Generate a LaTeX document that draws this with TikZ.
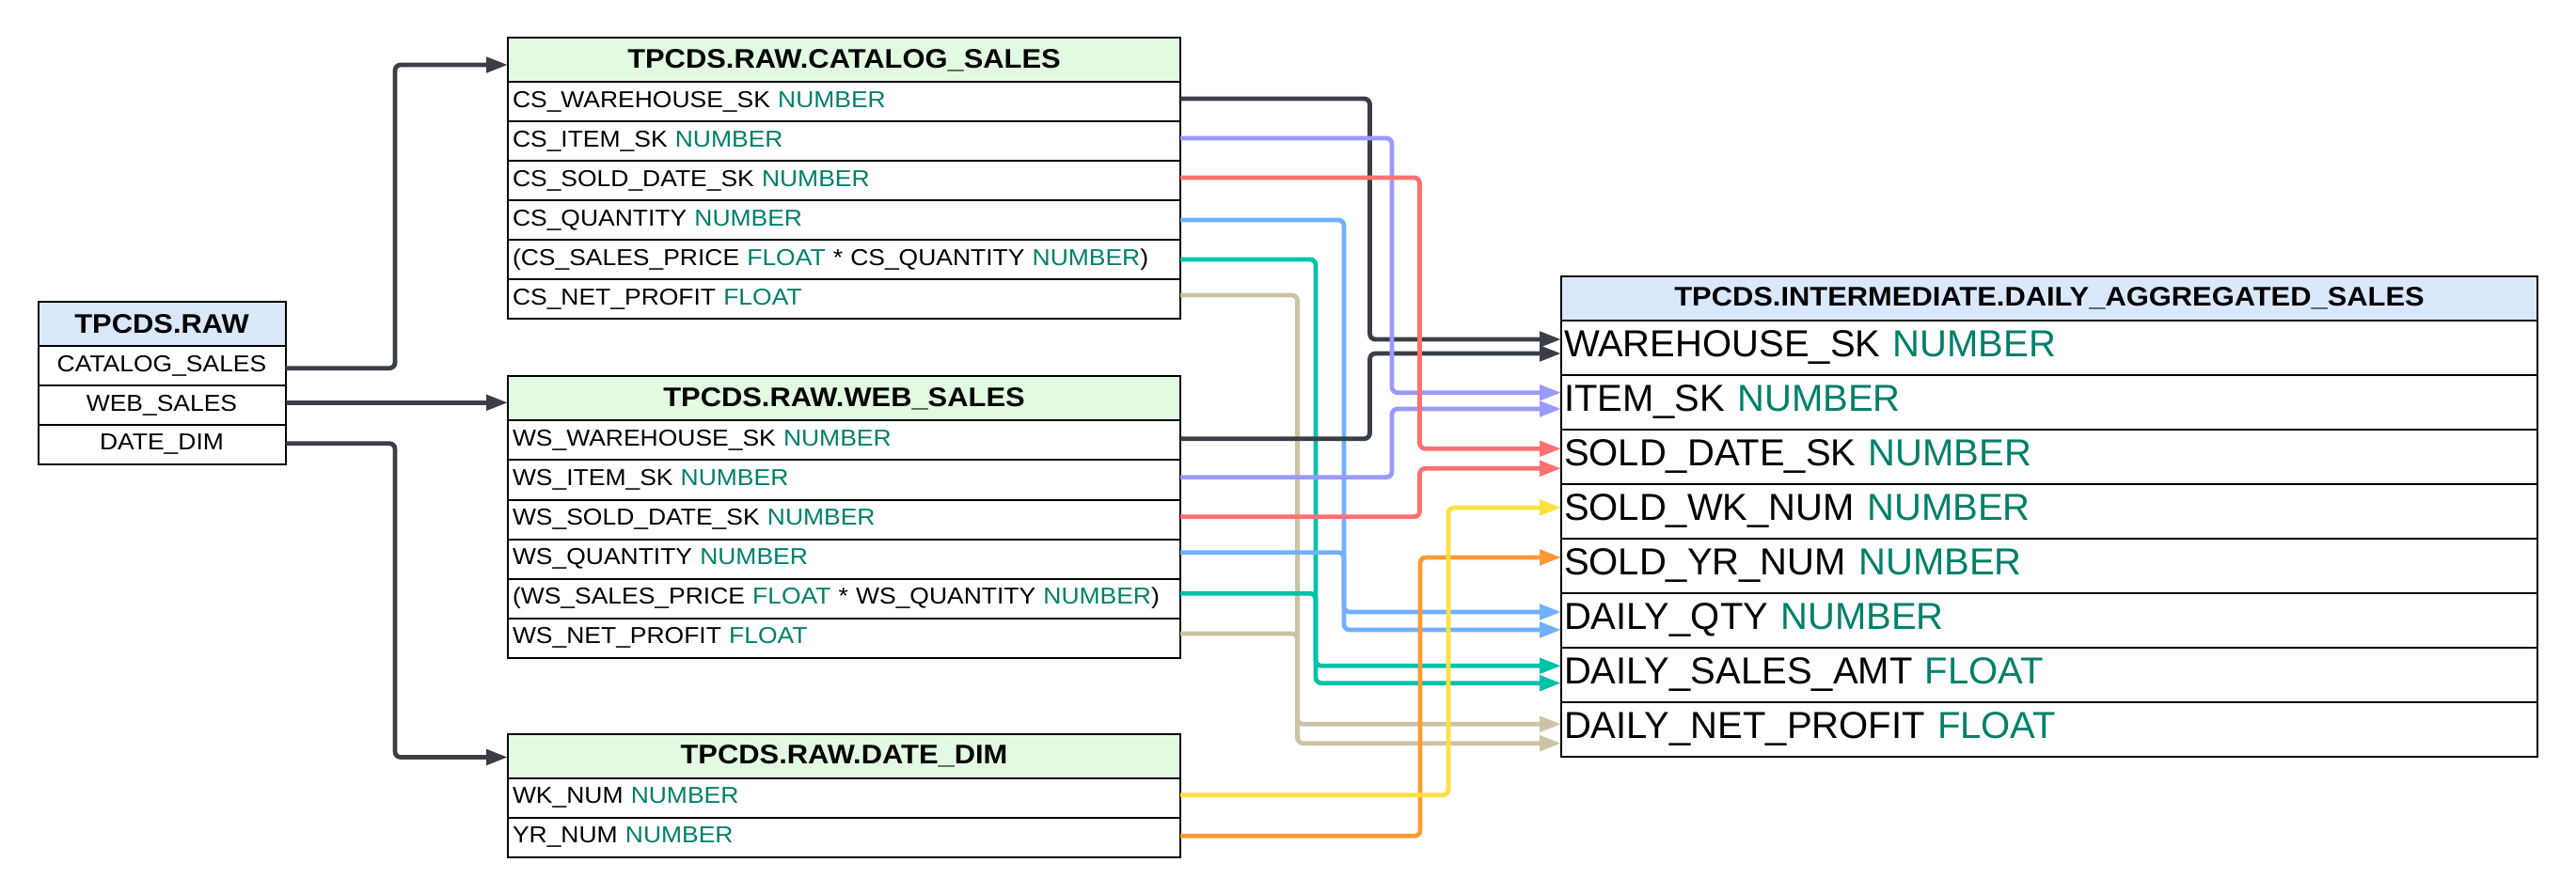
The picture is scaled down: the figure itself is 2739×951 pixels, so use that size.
\documentclass[tikz,border=0pt]{standalone}
\usepackage{fontspec}
\setmainfont{Liberation Sans}
\newfontfamily\sfs{Liberation Sans}[FakeStretch=1.08]
\usetikzlibrary{arrows.meta}
\definecolor{typec}{HTML}{00806A}
\definecolor{bluef}{HTML}{DAE8FC}
\definecolor{greenf}{HTML}{E2FAE2}
\definecolor{cdark}{HTML}{3A3F47}
\definecolor{cpurple}{HTML}{9999FF}
\definecolor{cred}{HTML}{FF7070}
\definecolor{cblue}{HTML}{70B0FF}
\definecolor{cteal}{HTML}{00C2A8}
\definecolor{ctan}{HTML}{CBC3A3}
\definecolor{cyellow}{HTML}{FFE03F}
\definecolor{corange}{HTML}{FF9933}
\newcommand\dtype[1]{\textcolor{typec}{#1}}
\begin{document}
\begin{tikzpicture}[x=0.5pt,y=-0.5pt,
  cell/.style={draw=black, line width=1pt, anchor=north west, inner ysep=0pt, outer sep=0pt},
  srow/.style={cell, font=\sfs\fontsize{12.25pt}{14pt}\selectfont, text width=352.5pt, inner xsep=2.5pt, minimum height=21pt, align=left},
  shead/.style={cell, fill=greenf, font=\sfs\bfseries\fontsize{14.3pt}{16pt}\selectfont, text width=352.5pt, inner xsep=2.5pt, minimum height=23.5pt, align=center},
  rawrow/.style={cell, font=\sfs\fontsize{12.25pt}{14pt}\selectfont, text width=127.5pt, inner xsep=2pt, minimum height=21pt, align=center},
  rawhead/.style={cell, fill=bluef, font=\sfs\bfseries\fontsize{14.3pt}{16pt}\selectfont, text width=127.5pt, inner xsep=2pt, minimum height=23.25pt, align=center},
  trow/.style={cell, font=\fontsize{20pt}{22pt}\selectfont, text width=516pt, inner xsep=1.5pt, minimum height=29pt, align=left},
  thead/.style={cell, fill=bluef, font=\sfs\bfseries\fontsize{14.3pt}{16pt}\selectfont, text width=516pt, inner xsep=1.5pt, minimum height=23.5pt, align=center},
  conn/.style={line width=2.4pt, rounded corners=3pt, -{Triangle[length=11.5pt,width=8pt]}}
]
\useasboundingbox (0,0) rectangle (2739,951);
\fill[white] (0,0) rectangle (2739,951);

% TPCDS.RAW
\node[rawhead] (rawh) at (40.5,321.5) {TPCDS.RAW};
\node[rawrow] (rawcs) at (40.5,368) {CATALOG\_SALES};
\node[rawrow] (rawws) at (40.5,410) {WEB\_SALES};
\node[rawrow] (rawdd) at (40.5,452) {DATE\_DIM};

% CATALOG_SALES
\node[shead] (csh) at (540,40.5) {TPCDS.RAW.CATALOG\_SALES};
\node[srow] (cs1) at (540,87.5) {CS\_WAREHOUSE\_SK \dtype{NUMBER}};
\node[srow] (cs2) at (540,129.5) {CS\_ITEM\_SK \dtype{NUMBER}};
\node[srow] (cs3) at (540,171.5) {CS\_SOLD\_DATE\_SK \dtype{NUMBER}};
\node[srow] (cs4) at (540,213.5) {CS\_QUANTITY \dtype{NUMBER}};
\node[srow] (cs5) at (540,255.5) {(CS\_SALES\_PRICE \dtype{FLOAT} * CS\_QUANTITY \dtype{NUMBER})};
\node[srow] (cs6) at (540,297.5) {CS\_NET\_PROFIT \dtype{FLOAT}};

% WEB_SALES
\node[shead] (wsh) at (540,400.5) {TPCDS.RAW.WEB\_SALES};
\node[srow] (ws1) at (540,447.5) {WS\_WAREHOUSE\_SK \dtype{NUMBER}};
\node[srow] (ws2) at (540,489.5) {WS\_ITEM\_SK \dtype{NUMBER}};
\node[srow] (ws3) at (540,531.5) {WS\_SOLD\_DATE\_SK \dtype{NUMBER}};
\node[srow] (ws4) at (540,573.5) {WS\_QUANTITY \dtype{NUMBER}};
\node[srow] (ws5) at (540,615.5) {(WS\_SALES\_PRICE \dtype{FLOAT} * WS\_QUANTITY \dtype{NUMBER})};
\node[srow] (ws6) at (540,657.5) {WS\_NET\_PROFIT \dtype{FLOAT}};

% DATE_DIM
\node[shead] (ddh) at (540,780.5) {TPCDS.RAW.DATE\_DIM};
\node[srow] (dd1) at (540,827.5) {WK\_NUM \dtype{NUMBER}};
\node[srow] (dd2) at (540,869.5) {YR\_NUM \dtype{NUMBER}};

% Target
\node[thead] (th) at (1660,294) {TPCDS.INTERMEDIATE.DAILY\_AGGREGATED\_SALES};
\node[trow] (t1) at (1660,341) {WAREHOUSE\_SK \dtype{NUMBER}};
\node[trow] (t2) at (1660,399) {ITEM\_SK \dtype{NUMBER}};
\node[trow] (t3) at (1660,457) {SOLD\_DATE\_SK \dtype{NUMBER}};
\node[trow] (t4) at (1660,515) {SOLD\_WK\_NUM \dtype{NUMBER}};
\node[trow] (t5) at (1660,573) {SOLD\_YR\_NUM \dtype{NUMBER}};
\node[trow] (t6) at (1660,631) {DAILY\_QTY \dtype{NUMBER}};
\node[trow] (t7) at (1660,689) {DAILY\_SALES\_AMT \dtype{FLOAT}};
\node[trow] (t8) at (1660,747) {DAILY\_NET\_PROFIT \dtype{FLOAT}};

% left connectors
\draw[conn,cdark] ([yshift=-1.35pt]rawcs.east) -- ++(58.25pt,0) |- ([yshift=-2.5pt]csh.west);
\draw[conn,cdark] ([yshift=1.35pt]rawws.east) -- ([yshift=1.35pt]rawws.east -| wsh.west);
\draw[conn,cdark] ([yshift=0.65pt]rawdd.east) -- ++(58.25pt,0) |- ([yshift=-0.75pt]ddh.west);

% right connectors
\draw[conn,ctan] ([yshift=2.25pt]cs6.east) -- ++(62.25pt,0) |- ([yshift=2.85pt]t8.west);
\draw[conn,ctan] ([yshift=2.25pt]ws6.east) -- ++(62.25pt,0) |- ([yshift=-7.35pt]t8.west);
\draw[conn,cteal] ([yshift=0.25pt]cs5.east) -- ++(72pt,0) |- ([yshift=4.85pt]t7.west);
\draw[conn,cteal] ([yshift=2.6pt]ws5.east) -- ++(72pt,0) |- ([yshift=-4.35pt]t7.west);
\draw[conn,cblue] ([yshift=0.25pt]cs4.east) -- ++(87pt,0) |- ([yshift=4.5pt]t6.west);
\draw[conn,cblue] ([yshift=3.4pt]ws4.east) -- ++(87pt,0) |- ([yshift=-5pt]t6.west);
\draw[conn,cdark] ([yshift=1.75pt]cs1.east) -- ++(100.75pt,0) |- ([yshift=4.5pt]t1.west);
\draw[conn,cdark] ([yshift=0.9pt]ws1.east) -- ++(100.75pt,0) |- ([yshift=-3pt]t1.west);
\draw[conn,cpurple] ([yshift=1.75pt]cs2.east) -- ++(112.5pt,0) |- ([yshift=5.15pt]t2.west);
\draw[conn,cpurple] ([yshift=1.4pt]ws2.east) -- ++(112.5pt,0) |- ([yshift=-3.5pt]t2.west);
\draw[conn,cred] ([yshift=1.75pt]cs3.east) -- ++(127.25pt,0) |- ([yshift=4.35pt]t3.west);
\draw[conn,cred] ([yshift=1.4pt]ws3.east) -- ++(127.25pt,0) |- ([yshift=-6.15pt]t3.west);
\draw[conn,corange] ([yshift=0.6pt]dd2.east) -- ++(127.5pt,0) |- ([yshift=4.5pt]t5.west);
\draw[conn,cyellow] ([yshift=1.4pt]dd1.east) -- ++(142.5pt,0) |- ([yshift=2pt]t4.west);
\end{tikzpicture}
\end{document}
